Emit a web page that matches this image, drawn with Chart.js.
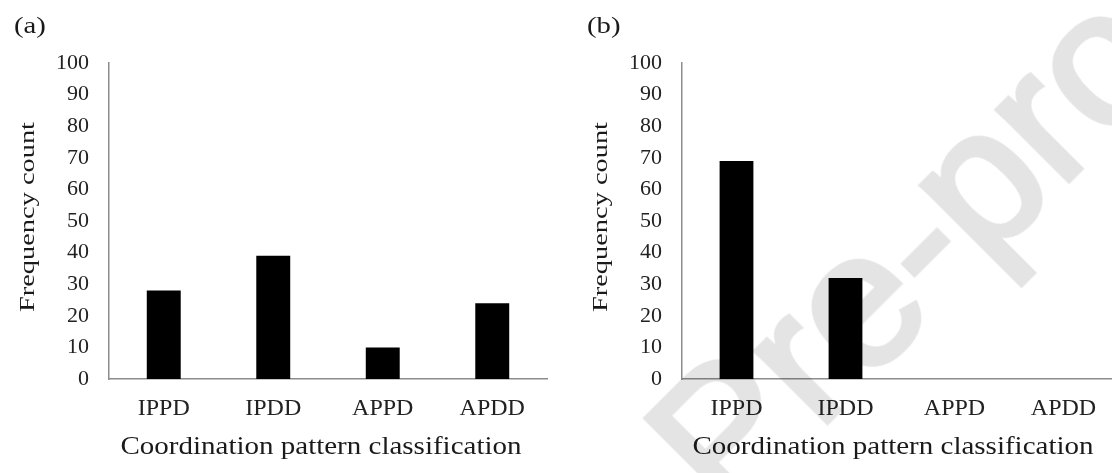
<!DOCTYPE html>
<html><head><meta charset="utf-8">
<script src="https://cdn.jsdelivr.net/npm/chart.js@4.4.1/dist/chart.umd.min.js"></script>
<style>
html,body{margin:0;padding:0;background:#fff;width:1112px;height:473px;overflow:hidden;}
#wrap{position:relative;width:1112px;height:473px;overflow:hidden;background:#fff;}
canvas{position:absolute;top:0;}
#cA{left:0;width:556px;height:473px;}
#cB{left:556px;width:570px;height:473px;}
#wm{position:absolute;left:728px;top:359.5px;font-family:"Liberation Sans",Arial,sans-serif;font-size:192px;line-height:1;white-space:nowrap;color:#000;-webkit-text-stroke:5px #000;opacity:0.105;transform-origin:0 162.5px;transform:rotate(-45deg);pointer-events:none;}
</style></head>
<body><div id="wrap"><canvas id="cA" width="556" height="473"></canvas><canvas id="cB" width="570" height="473"></canvas><div id="wm">Pre-proof</div></div>
<script>
const categories = ['IPPD', 'IPDD', 'APPD', 'APDD'];
const valuesA = [28, 39, 10, 24];
const valuesB = [69, 32, 0, 0];
const yTickValues = [0, 10, 20, 30, 40, 50, 60, 70, 80, 90, 100];
const xTitle = 'Coordination pattern classification';
const yTitle = 'Frequency count';
const panelLabels = ['(a)', '(b)'];

const SERIF = '"Liberation Serif", "Times New Roman", serif';

function decoPlugin(label) {
  return {
    id: 'deco',
    afterDraw(chart) {
      const ctx = chart.ctx, a = chart.chartArea;
      ctx.save();
      ctx.fillStyle = '#1a1a1a';
      ctx.textBaseline = 'alphabetic';
      ctx.textAlign = 'center';
      ctx.font = '25px ' + SERIF;
      ctx.save();
      ctx.translate((a.left + a.right) / 2 - 7, 454);
      ctx.scale(1.16, 1);
      ctx.fillText(xTitle, 0, 0);
      ctx.restore();
      ctx.font = '22px ' + SERIF;
      ctx.save();
      ctx.translate(a.left - 75, (a.top + a.bottom) / 2 - 4);
      ctx.rotate(-Math.PI / 2);
      ctx.scale(1.29, 1);
      ctx.fillText(yTitle, 0, 0);
      ctx.restore();
      ctx.textAlign = 'left';
      ctx.font = '23px ' + SERIF;
      ctx.save();
      ctx.translate(a.left - 95, 33);
      ctx.scale(1.25, 1);
      ctx.fillText(label, 0, 0);
      ctx.restore();
      ctx.restore();
    }
  };
}

function makeChart(id, values, label, yW, rightPad) {
  return new Chart(document.getElementById(id), {
    type: 'bar',
    data: {
      labels: categories,
      datasets: [{
        data: values,
        backgroundColor: '#000',
        borderWidth: 0,
        barPercentage: 0.31,
        categoryPercentage: 1.0
      }]
    },
    options: {
      responsive: false,
      animation: false,
      devicePixelRatio: 1,
      layout: { padding: { left: 0, top: 63, right: rightPad, bottom: 0 } },
      plugins: { legend: { display: false }, tooltip: { enabled: false } },
      scales: {
        x: {
          grid: { display: false, drawTicks: false },
          border: { display: true, color: '#8c8c8c', width: 1.5 },
          ticks: { color: '#222', font: { family: SERIF, size: 24 }, padding: 15, maxRotation: 0 },
          afterFit(s) { s.height = 94; }
        },
        y: {
          min: yTickValues[0],
          max: yTickValues[yTickValues.length - 1],
          afterBuildTicks(s) { s.ticks = yTickValues.map(v => ({ value: v })); },
          grid: { display: false, drawTicks: false },
          border: { display: true, color: '#8c8c8c', width: 1.5 },
          ticks: { color: '#222', font: { family: SERIF, size: 22 }, padding: 20 },
          afterFit(s) { s.width = yW; }
        }
      }
    },
    plugins: [decoPlugin(label)]
  });
}

makeChart('cA', valuesA, panelLabels[0], 109, 9);
makeChart('cB', valuesB, panelLabels[1], 126, 8);
</script>
</body></html>
